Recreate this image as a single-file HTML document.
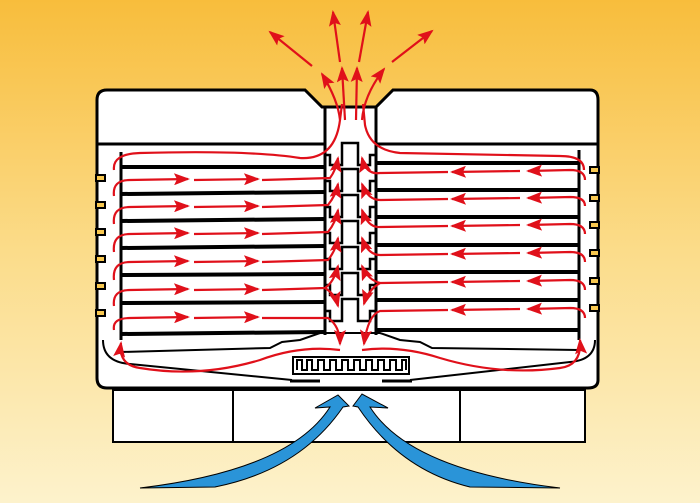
<!DOCTYPE html>
<html><head><meta charset="utf-8"><style>
html,body{margin:0;padding:0;width:700px;height:503px;overflow:hidden}
</style></head><body>
<svg width="700" height="503" viewBox="0 0 700 503" xmlns="http://www.w3.org/2000/svg">
<defs>
<linearGradient id="bg" x1="0" y1="0" x2="0" y2="1">
<stop offset="0" stop-color="#f8bd3c"/><stop offset="0.5" stop-color="#fbdc8a"/><stop offset="1" stop-color="#fdf2cc"/>
</linearGradient>
<marker id="ar2" markerWidth="16" markerHeight="12" refX="14" refY="6" orient="auto" markerUnits="userSpaceOnUse" viewBox="0 0 16 12">
<path d="M0,0 L16,6 L0,12 L3,6 Z" fill="#e0101a"/></marker>
</defs>
<rect width="700" height="503" fill="url(#bg)"/>
<g fill="#fff" stroke="#000" stroke-width="2">
<rect x="113" y="390" width="120" height="52"/>
<rect x="233" y="390" width="227" height="52"/>
<rect x="460" y="390" width="125" height="52"/>
</g>
<path d="M107,90 L305,90 L322,107 L376,107 L393,90 L590,90 Q598,90 598,100 L598,380 Q598,388 588,388 L107,388 Q97,388 97,378 L97,100 Q97,90 107,90 Z" fill="#fff" stroke="#000" stroke-width="3"/>
<g stroke="#000" stroke-width="3" fill="none">
<line x1="97" y1="144" x2="325" y2="144"/>
<line x1="376" y1="144" x2="598" y2="144"/>
<line x1="325" y1="107" x2="325" y2="335"/>
<line x1="376" y1="107" x2="376" y2="335"/>
<line x1="121" y1="152" x2="121" y2="340"/>
<line x1="579" y1="150" x2="579" y2="340"/>
</g>
<g stroke="#000" stroke-width="4">
<line x1="121" y1="167" x2="325" y2="167"/><line x1="376" y1="163" x2="579" y2="163"/>
<line x1="121" y1="194" x2="325" y2="192"/><line x1="376" y1="190" x2="579" y2="190"/>
<line x1="121" y1="221" x2="325" y2="219"/><line x1="376" y1="217" x2="579" y2="217"/>
<line x1="121" y1="248" x2="325" y2="246"/><line x1="376" y1="245" x2="579" y2="245"/>
<line x1="121" y1="275" x2="325" y2="274"/><line x1="376" y1="272" x2="579" y2="272"/>
<line x1="121" y1="303" x2="325" y2="302"/><line x1="376" y1="300" x2="579" y2="300"/>
<line x1="121" y1="334" x2="325" y2="332"/><line x1="376" y1="330" x2="579" y2="330"/>
</g>
<g fill="#f8c850" stroke="#000" stroke-width="2">
<rect x="96" y="175" width="9" height="6"/><rect x="96" y="202" width="9" height="6"/><rect x="96" y="229" width="9" height="6"/><rect x="96" y="256" width="9" height="6"/><rect x="96" y="283" width="9" height="6"/><rect x="96" y="310" width="9" height="6"/>
<rect x="590" y="167" width="9" height="6"/><rect x="590" y="195" width="9" height="6"/><rect x="590" y="222" width="9" height="6"/><rect x="590" y="250" width="9" height="6"/><rect x="590" y="278" width="9" height="6"/><rect x="590" y="305" width="9" height="6"/>
</g>
<g stroke="#000" stroke-width="2.5" fill="none">
<path d="M325,155 L330,155 L330,165 L342,165 L342,143 L358,143 L358,165 L370,165 L370,155 L376,155"/>
<path d="M325,181 L330,181 L330,191 L342,191 L342,169 L358,169 L358,191 L370,191 L370,181 L376,181"/>
<path d="M325,207 L330,207 L330,217 L342,217 L342,195 L358,195 L358,217 L370,217 L370,207 L376,207"/>
<path d="M325,233 L330,233 L330,243 L342,243 L342,221 L358,221 L358,243 L370,243 L370,233 L376,233"/>
<path d="M325,259 L330,259 L330,269 L342,269 L342,247 L358,247 L358,269 L370,269 L370,259 L376,259"/>
<path d="M325,285 L330,285 L330,295 L342,295 L342,273 L358,273 L358,295 L370,295 L370,285 L376,285"/>
<path d="M325,311 L330,311 L330,321 L342,321 L342,299 L358,299 L358,321 L370,321 L370,311 L376,311"/>
</g>
<g stroke="#000" stroke-width="2" fill="none">
<path d="M103,340 Q103,362 130,364 L292,380"/>
<path d="M595,340 Q595,360 570,362 L410,380"/>
<path d="M121,352 L270,348 L282,342 L300,340 L320,333 L380,333 L400,340 L420,342 L432,348 L579,350"/>
<rect x="293" y="357" width="116" height="17"/>
<path d="M297,370 L297,360 L302,360 L302,370 L307,370 L307,360 L312,360 L312,370 L318,370 L318,360 L324,360 L324,370 L330,370 L330,360 L336,360 L336,370 L342,370 L342,360 L348,360 L348,370 L354,370 L354,360 L360,360 L360,370 L366,370 L366,360 L372,360 L372,370 L378,370 L378,360 L384,360 L384,370 L390,370 L390,360 L396,360 L396,370 L402,370 L402,360 L406,360 L406,370"/>
</g>
<g stroke="#000" stroke-width="3"><line x1="290" y1="381" x2="320" y2="381"/><line x1="382" y1="381" x2="412" y2="381"/></g>
<g stroke="#e0101a" stroke-width="2.2" fill="none">
<path d="M114,170 Q112,154 140,153 Q250,150 300,158 Q335,160 340,120 L342,104"/>
<path d="M584,170 Q584,156 560,156 Q450,154 400,153 Q370,150 365,125 L363,104"/>
</g>
<g stroke="#e0101a" stroke-width="2.2" fill="none" marker-end="url(#ar2)">
<path d="M114,196 Q112,180 130,180 L188,179"/>
<path d="M194,180 L258,179"/><path d="M262,180 L330,178 Q336,170 338,158"/>
<path d="M114,224 Q112,207 130,207 L188,206"/><path d="M194,207 L258,206"/><path d="M262,207 L328,205 Q336,195 338,184"/>
<path d="M114,252 Q112,234 130,234 L188,233"/><path d="M194,234 L258,233"/><path d="M262,234 L328,232 Q336,222 338,210"/>
<path d="M114,280 Q112,262 130,262 L188,261"/><path d="M194,262 L258,261"/><path d="M262,262 L328,260 Q336,250 338,238"/>
<path d="M114,306 Q112,290 130,290 L188,289"/><path d="M194,290 L258,289"/><path d="M262,290 L325,288 Q334,282 338,266"/>
<path d="M114,330 Q112,318 130,318 L188,317"/><path d="M194,318 L258,317"/><path d="M262,318 L328,318 Q340,326 340,344"/>
<path d="M325,288 Q335,294 338,306"/>
<path d="M585,180 Q585,170 570,170 L528,171"/><path d="M520,171 L452,172"/><path d="M448,172 L380,173 Q366,175 362,158"/>
<path d="M585,206 Q585,197 570,197 L528,198"/><path d="M520,198 L452,199"/><path d="M448,199 L380,200 Q368,200 362,184"/>
<path d="M585,234 Q585,224 570,224 L528,225"/><path d="M520,225 L452,226"/><path d="M448,226 L380,227 Q368,228 362,210"/>
<path d="M585,262 Q585,252 570,252 L528,253"/><path d="M520,253 L452,254"/><path d="M448,254 L380,255 Q368,255 362,238"/>
<path d="M585,290 Q585,280 570,280 L528,281"/><path d="M520,281 L452,282"/><path d="M448,282 L380,283 Q368,280 362,266"/>
<path d="M585,318 Q585,308 570,308 L528,309"/><path d="M520,309 L452,310"/><path d="M448,310 L380,311 Q368,315 364,344"/>
<path d="M380,283 Q368,290 364,304"/>
<path d="M340,350 Q300,345 260,360 Q200,378 140,368 Q118,365 121,343"/>
<path d="M362,350 Q400,345 440,358 Q500,376 560,368 Q582,365 580,340"/>
<path d="M340,120 Q338,100 322,74"/><path d="M345,120 L342,68"/><path d="M356,120 L357,68"/><path d="M362,120 Q364,95 384,69"/>
<path d="M312,66 L270,32"/><path d="M340,62 L333,12"/><path d="M359,62 L368,12"/><path d="M392,62 L432,31"/>
</g>
<g fill="#2a94d8" stroke="#000" stroke-width="1">
<path d="M140,488 Q290,470 330,407 L315,408 L338,395 L349,406 L343,407 Q300,470 215,487 Z"/>
<path d="M560,488 Q410,470 370,407 L388,408 L362,394 L353,406 L358,407 Q400,470 470,487 Z"/>
</g>
</svg>
</body></html>
